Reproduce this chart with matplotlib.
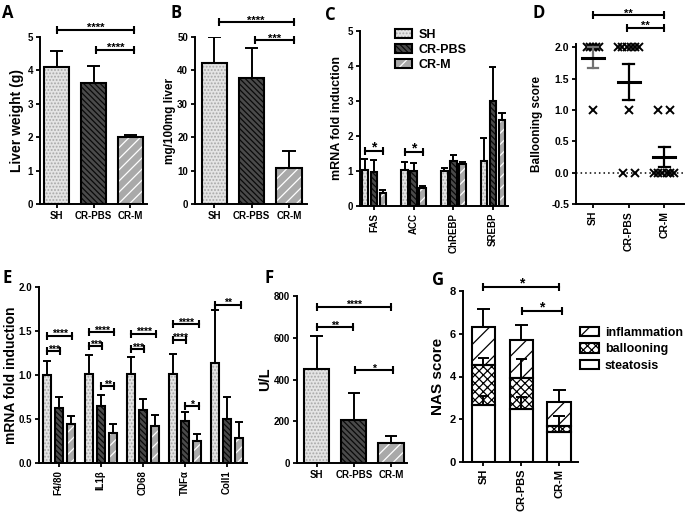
import numpy as np
import matplotlib
matplotlib.use("Agg")
import matplotlib.pyplot as plt
from matplotlib.patches import Patch

# ---------------- data ----------------
groups = ["SH", "CR-PBS", "CR-M"]

# A: liver weight
liver_weight = [4.10, 3.62, 2.00]
liver_weight_err = [0.47, 0.50, 0.08]

# B: liver TG
liver_tg = [42.2, 37.7, 10.8]
liver_tg_err = [7.7, 9.1, 5.1]

# C: lipogenic genes
lipo_genes = ["FAS", "ACC", "ChREBP", "SREBP"]
lipo_sh = [1.03, 1.03, 1.00, 1.30]
lipo_sh_err = [0.30, 0.22, 0.10, 0.63]
lipo_pbs = [0.96, 1.00, 1.28, 3.01]
lipo_pbs_err = [0.36, 0.22, 0.18, 0.97]
lipo_m = [0.38, 0.51, 1.19, 2.47]
lipo_m_err = [0.07, 0.05, 0.08, 0.18]

# D: ballooning score (individual animals)
ball_sh = [2, 2, 2, 2, 2, 1]
ball_pbs = [2, 2, 2, 2, 2, 2, 1, 0, 0]
ball_m = [1, 1, 0, 0, 0, 0, 0, 0]
ball_mean = [1.83, 1.44, 0.25]
ball_sem = [0.17, 0.29, 0.16]

# E: inflammatory genes
infl_genes = ["F4/80", "IL1\u03b2", "CD68", "TNF\u03b1", "Coll1"]
infl_sh = [1.00, 1.01, 1.01, 1.01, 1.14]
infl_sh_err = [0.16, 0.22, 0.20, 0.23, 0.60]
infl_pbs = [0.62, 0.645, 0.60, 0.48, 0.505]
infl_pbs_err = [0.13, 0.125, 0.13, 0.10, 0.25]
infl_m = [0.44, 0.34, 0.42, 0.25, 0.28]
infl_m_err = [0.09, 0.105, 0.13, 0.08, 0.19]

# F: serum ALT
alt = [452, 206, 97]
alt_err = [156, 129, 30]

# G: NAS score components
steatosis = [2.65, 2.47, 1.42]
steatosis_err = [0.42, 0.58, 0.25]
ballooning = [1.87, 1.46, 0.25]
ballooning_err = [0.36, 0.87, 0.50]
inflammation = [1.80, 1.80, 1.15]
inflammation_err = [0.84, 0.68, 0.56]

# ---------------- style ----------------
plt.rcParams['font.family'] = ['Liberation Sans', 'DejaVu Sans']
plt.rcParams['font.weight'] = 'bold'
plt.rcParams['axes.labelweight'] = 'bold'
plt.rcParams['hatch.linewidth'] = 0.9

W, H = 685, 522
fig = plt.figure(figsize=(W / 100, H / 100), dpi=100)

styles = {
    "SH": ("#e4e4e4", "#a8a8a8", "....."),
    "CR-PBS": ("#4a4a4a", "#0a0a0a", "\\\\\\\\\\\\"),
    "CR-M": ("#a9a9a9", "white", "///"),
}


def px_axes(l, t, r, b):
    return fig.add_axes([l / W, 1 - b / H, (r - l) / W, (b - t) / H])


def style_ax(ax, fs=7):
    for s in ["top", "right"]:
        ax.spines[s].set_visible(False)
    for s in ["left", "bottom"]:
        ax.spines[s].set_linewidth(1.4)
    ax.tick_params(width=1.3, length=3, labelsize=fs, pad=2)


def ylabel(ax, text, xpix, left, width, fs):
    ax.set_ylabel(text, fontsize=fs, va="center")
    ax.yaxis.set_label_coords((xpix - left) / width, 0.5)


def hbar(ax, x, h, w, key, bottom=0, face=None, hc=None, hatch=None):
    f, c, ht = styles[key] if key else (face, hc, hatch)
    ax.bar(x, h, w, bottom=bottom, color=f, edgecolor=c, hatch=ht,
           linewidth=0, zorder=2)
    ax.bar(x, h, w, bottom=bottom, facecolor="none", edgecolor="black",
           linewidth=1.5, zorder=3)


def errup(ax, x, top, err, half, lw=1.4, color="k"):
    ax.plot([x, x], [top, top + err], color=color, lw=lw, zorder=4,
            solid_capstyle="butt")
    ax.plot([x - half, x + half], [top + err] * 2, color=color, lw=lw,
            zorder=4, solid_capstyle="butt")


def bracket(ax, x1, x2, y, label, fs=8, ms=6):
    ax.plot([x1, x2], [y, y], color="k", lw=1.5, marker="|", ms=ms,
            mew=1.5, clip_on=False, zorder=5)
    ax.annotate(label, ((x1 + x2) / 2, y), xytext=(0, -2.5),
                textcoords="offset points", ha="center", va="bottom",
                fontsize=fs, annotation_clip=False)


def simple_bars(ax, vals, errs, cap):
    for i, g in enumerate(groups):
        hbar(ax, i, vals[i], 0.68, g)
        errup(ax, i, vals[i], errs[i], cap)
    ax.set_xticks(range(3))
    ax.set_xticklabels(groups)


# ---------------- A ----------------
axA = px_axes(40, 37, 147, 204)
style_ax(axA)
simple_bars(axA, liver_weight, liver_weight_err, 0.18)
axA.set_xlim(-0.45, 2.45)
axA.set_ylim(0, 5)
axA.set_yticks(range(6))
ylabel(axA, "Liver weight (g)", 17, 40, 107, 10)
bracket(axA, 0.0, 2.1, 5.22, "****")
bracket(axA, 1.08, 2.1, 4.62, "****")

# ---------------- B ----------------
axB = px_axes(195, 37, 307, 204)
style_ax(axB)
simple_bars(axB, liver_tg, liver_tg_err, 0.18)
axB.set_xlim(-0.52, 2.48)
axB.set_ylim(0, 50)
axB.set_yticks(range(0, 51, 10))
ylabel(axB, "mg/100mg liver", 170, 195, 112, 8.5)
bracket(axB, 0.12, 2.12, 54.4, "****")
bracket(axB, 1.1, 2.12, 49.0, "***")

# ---------------- C ----------------
axC = px_axes(360, 31, 508, 206)
style_ax(axC)
off, bw = 0.227, 0.17
xg = np.arange(len(lipo_genes))
for k, (vals, errs, g) in enumerate([(lipo_sh, lipo_sh_err, "SH"),
                                     (lipo_pbs, lipo_pbs_err, "CR-PBS"),
                                     (lipo_m, lipo_m_err, "CR-M")]):
    for i in range(len(lipo_genes)):
        x = xg[i] + (k - 1) * off
        hbar(axC, x, vals[i], bw, g)
        errup(axC, x, vals[i], errs[i], 0.09)
axC.set_xlim(-0.35, 3.38)
axC.set_ylim(0, 5)
axC.set_yticks(range(6))
axC.set_xticks(xg)
axC.set_xticklabels(lipo_genes, rotation=90)
ylabel(axC, "mRNA fold induction", 337, 360, 148, 9)
bracket(axC, -off, off, 1.58, "*", fs=10)
bracket(axC, 1 - off, 1 + off, 1.53, "*", fs=10)
handles = [Patch(facecolor=styles[g][0], edgecolor=styles[g][1],
                 hatch=styles[g][2], linewidth=0) for g in groups]
frames = [Patch(facecolor="none", edgecolor="k", linewidth=1.5) for g in groups]
axC.legend([(h, f) for h, f in zip(handles, frames)], groups,
           loc="upper left", bbox_to_anchor=(0.2, 1.04), frameon=False,
           fontsize=9, handlelength=1.4, handleheight=0.75,
           labelspacing=0.25, handletextpad=0.5, borderaxespad=0)

# ---------------- D ----------------
axD = px_axes(576, 44, 684, 204)
style_ax(axD, fs=7.5)
dx_sh = [-0.16, -0.08, 0.0, 0.08, 0.16, 0.0]
dx_pbs = [-0.3, -0.18, -0.06, 0.06, 0.18, 0.3, 0.0, -0.17, 0.17]
dx_m = [-0.17, 0.17, -0.28, -0.17, -0.06, 0.06, 0.17, 0.28]
axD.axhline(0, ls=(0, (1, 2)), color="k", lw=1.1, zorder=1)
for i, (ys, dx) in enumerate([(ball_sh, dx_sh), (ball_pbs, dx_pbs),
                              (ball_m, dx_m)]):
    axD.plot(np.array(dx) + i, ys, ls="none", marker="x", ms=5.5, mew=1.4,
             color="k", zorder=3, clip_on=False)
    ecol = "0.45" if i == 0 else "k"
    axD.plot([i, i], [ball_mean[i] - ball_sem[i], ball_mean[i] + ball_sem[i]],
             color=ecol, lw=1.6, zorder=4)
    for yy in [ball_mean[i] - ball_sem[i], ball_mean[i] + ball_sem[i]]:
        axD.plot([i - 0.15, i + 0.15], [yy, yy], color=ecol, lw=1.6, zorder=4)
    axD.plot([i - 0.31, i + 0.31], [ball_mean[i]] * 2, color="k", lw=2.2,
             zorder=5)
axD.set_xlim(-0.48, 2.55)
axD.set_ylim(-0.5, 2.05)
axD.set_yticks([-0.5, 0, 0.5, 1.0, 1.5, 2.0])
axD.set_yticklabels(["-0.5", "0.0", "0.5", "1.0", "1.5", "2.0"])
axD.set_xticks(range(3))
axD.set_xticklabels(groups, rotation=90)
ylabel(axD, "Ballooning score", 537, 576, 108, 8.5)
bracket(axD, 0, 2, 2.51, "**")
bracket(axD, 0.95, 2, 2.31, "**")

# ---------------- E ----------------
axE = px_axes(39, 287, 247, 463)
style_ax(axE)
off, bw = 0.286, 0.19
xg = np.arange(len(infl_genes))
for k, (vals, errs, g) in enumerate([(infl_sh, infl_sh_err, "SH"),
                                     (infl_pbs, infl_pbs_err, "CR-PBS"),
                                     (infl_m, infl_m_err, "CR-M")]):
    for i in range(len(infl_genes)):
        x = xg[i] + (k - 1) * off
        hbar(axE, x, vals[i], bw, g)
        errup(axE, x, vals[i], errs[i], 0.095)
axE.set_xlim(-0.47, 4.48)
axE.set_ylim(0, 2)
axE.set_yticks([0, 0.5, 1.0, 1.5, 2.0])
axE.set_yticklabels(["0.0", "0.5", "1.0", "1.5", "2.0"])
axE.set_xticks(xg)
axE.set_xticklabels(infl_genes, rotation=90)
ylabel(axE, "mRNA fold induction", 11, 39, 208, 10)
e_brackets = [(0, 0, 1, 1.27, "***"), (0, 0, 2, 1.445, "****"),
              (1, 0, 1, 1.33, "***"), (1, 0, 2, 1.49, "****"),
              (1, 1, 2, 0.87, "**"),
              (2, 0, 1, 1.29, "***"), (2, 0, 2, 1.47, "****"),
              (3, 0, 1, 1.40, "****"), (3, 0, 2, 1.58, "****"),
              (3, 1, 2, 0.645, "*"),
              (4, 0, 2, 1.80, "**")]
for g, a, b, y, lab in e_brackets:
    bracket(axE, g + (a - 1) * off, g + (b - 1) * off + 0.04, y, lab, fs=7.5)

# ---------------- F ----------------
axF = px_axes(297, 296, 407, 463)
style_ax(axF)
simple_bars(axF, alt, alt_err, 0.17)
axF.set_xlim(-0.53, 2.43)
axF.set_ylim(0, 800)
axF.set_yticks(range(0, 801, 200))
ylabel(axF, "U/L", 265, 297, 110, 10.5)
bracket(axF, 0, 2, 749, "****", fs=7.5)
bracket(axF, 0, 0.97, 652, "**", fs=7.5)
bracket(axF, 1.03, 2.05, 444, "*", fs=7.5)

# ---------------- G ----------------
axG = px_axes(463, 291, 578, 462)
style_ax(axG, fs=8)
seg_styles = [("white", "k", None), ("white", "k", "xxxx"), ("white", "k", "//")]
segs = [(steatosis, steatosis_err), (ballooning, ballooning_err),
        (inflammation, inflammation_err)]
for i in range(3):
    bottom = 0
    tops = []
    for s, (vals, errs) in enumerate(segs):
        f, c, ht = seg_styles[s]
        hbar(axG, i, vals[i], 0.62, None, bottom=bottom, face=f, hc=c, hatch=ht)
        bottom += vals[i]
        tops.append(bottom)
    for s, (vals, errs) in enumerate(segs):
        errup(axG, i, tops[s], errs[i], 0.15 if s < 2 else 0.17)
axG.set_xlim(-0.54, 2.5)
axG.set_ylim(0, 8)
axG.set_yticks(range(0, 9, 2))
axG.set_xticks(range(3))
axG.set_xticklabels(groups, rotation=90)
ylabel(axG, "NAS score", 438, 463, 115, 11)
bracket(axG, 0, 2, 8.2, "*", fs=10)
bracket(axG, 1.02, 2.08, 7.06, "*", fs=10)
g_labels = ["inflammation", "ballooning", "steatosis"]
g_handles = []
for s in [2, 1, 0]:
    f, c, ht = seg_styles[s]
    g_handles.append((Patch(facecolor=f, edgecolor=c, hatch=ht, linewidth=0),
                      Patch(facecolor="none", edgecolor="k", linewidth=1.5)))
fig.legend(g_handles, g_labels, loc="upper left",
           bbox_to_anchor=(580 / W, 1 - 327 / H), frameon=False, fontsize=9,
           handlelength=1.5, handleheight=0.75, labelspacing=0.35,
           handletextpad=0.5, borderaxespad=0, borderpad=0)

# ---------------- panel letters ----------------
for lab, x, y in [("A", 2, 4), ("B", 170, 4), ("C", 325, 6), ("D", 533, 4),
                  ("E", 2, 269), ("F", 264, 269), ("G", 432, 271)]:
    fig.text(x / W, 1 - y / H, lab, fontsize=12, fontweight="bold",
             family=["Open Sans", "DejaVu Sans"], ha="left", va="top")

fig.savefig("out.png", dpi=100)
